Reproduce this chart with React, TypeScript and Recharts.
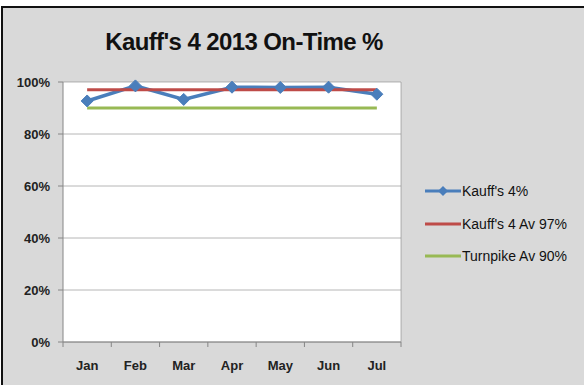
import React from "react";
import { LineChart, Line, XAxis, YAxis, CartesianGrid } from "recharts";

const months = ["Jan", "Feb", "Mar", "Apr", "May", "Jun", "Jul"];
const kauffsOnTime = [0.927, 0.985, 0.933, 0.98, 0.979, 0.98, 0.953];
const kauffsAverage = 0.97;
const turnpikeAverage = 0.9;
const yTicks = [0, 0.2, 0.4, 0.6, 0.8, 1];

const seriesNames = {
  kauffs: "Kauff's 4%",
  kauffsAv: "Kauff's 4 Av 97%",
  turnpikeAv: "Turnpike Av 90%",
};

const BLUE = "#4a7ebb";
const RED = "#be4b48";
const GREEN = "#98b954";
const AXIS = "#868686";
const FONT = "'Liberation Sans', Arial, sans-serif";

const data = months.map((m, i) => ({
  month: m,
  kauffs: kauffsOnTime[i],
  kauffsAv: kauffsAverage,
  turnpikeAv: turnpikeAverage,
}));

const W = 584;
const H = 385;
const MARGIN = { top: 82, right: 183, bottom: 13, left: 0 };
const Y_AXIS_W = 63;
const X_AXIS_H = 30;

const Diamond = (props: any) => {
  const { cx, cy } = props;
  if (cx == null || cy == null) return null;
  const r = 6;
  return (
    <path
      d={`M${cx},${cy - r}L${cx + r},${cy}L${cx},${cy + r}L${cx - r},${cy}Z`}
      fill={BLUE}
      stroke={BLUE}
    />
  );
};

const XTick = (props: any) => {
  const { x, y, payload, index } = props;
  const plotW = W - MARGIN.right - Y_AXIS_W - MARGIN.left;
  const half = plotW / months.length / 2;
  const top = y - 8;
  return (
    <g>
      <line x1={x - half} x2={x - half} y1={top} y2={top + 5} stroke={AXIS} />
      {index === months.length - 1 && (
        <line x1={x + half} x2={x + half} y1={top} y2={top + 5} stroke={AXIS} />
      )}
      <text
        x={x}
        y={y + 20}
        textAnchor="middle"
        fontFamily={FONT}
        fontSize={13}
        fontWeight="bold"
        fill="#222"
      >
        {payload.value}
      </text>
    </g>
  );
};

const LegendBox = () => {
  const items = [
    { key: "kauffs", color: BLUE, marker: true },
    { key: "kauffsAv", color: RED, marker: false },
    { key: "turnpikeAv", color: GREEN, marker: false },
  ];
  return (
    <div
      style={{
        position: "absolute",
        left: 425,
        top: 175,
        fontFamily: FONT,
        fontSize: 14,
        color: "#111",
      }}
    >
      {items.map((it) => (
        <div
          key={it.key}
          style={{ display: "flex", alignItems: "center", height: 32.5 }}
        >
          <svg width={36} height={12} style={{ marginRight: 1 }}>
            <line x1={0} x2={36} y1={6} y2={6} stroke={it.color} strokeWidth={3} />
            {it.marker && <path d="M18,1L23,6L18,11L13,6Z" fill={it.color} />}
          </svg>
          <span>{(seriesNames as any)[it.key]}</span>
        </div>
      ))}
    </div>
  );
};

export default function App() {
  return (
    <div
      style={{
        position: "absolute",
        left: 0,
        top: 0,
        width: W,
        height: H,
        background: "#ffffff",
        overflow: "hidden",
      }}
    >
      <div
        style={{
          position: "absolute",
          left: 1,
          top: 6,
          width: W + 10,
          height: H + 10,
          background: "#d9d9d9",
          borderLeft: "2px solid #111",
          borderTop: "2px solid #111",
          boxSizing: "border-box",
        }}
      />
      <div
        style={{
          position: "absolute",
          left: 0,
          top: 28,
          width: 488,
          textAlign: "center",
          fontFamily: FONT,
          fontSize: 24,
          letterSpacing: "-0.6px",
          fontWeight: "bold",
          color: "#111",
          lineHeight: "28px",
        }}
      >
        Kauff's 4 2013 On-Time %
      </div>
      <div style={{ position: "absolute", left: 0, top: 0 }}>
        <LineChart width={W} height={H} data={data} margin={MARGIN}>
          <CartesianGrid
            fill="#ffffff"
            stroke={AXIS}
            strokeOpacity={0.6}
            verticalCoordinatesGenerator={({ offset }: any) => [
              offset.left + offset.width,
            ]}
          />
          <XAxis
            dataKey="month"
            scale="band"
            height={X_AXIS_H}
            stroke={AXIS}
            tickLine={false}
            tick={<XTick />}
            interval={0}
          />
          <YAxis
            width={Y_AXIS_W}
            domain={[0, 1]}
            ticks={yTicks}
            stroke={AXIS}
            tickSize={5}
            tickMargin={8}
            tickFormatter={(v: number) => `${Math.round(v * 100)}%`}
            tick={{
              fontFamily: FONT,
              fontSize: 13,
              fill: "#222",
              fontWeight: "bold",
            }}
          />
          <Line
            dataKey="turnpikeAv"
            name={seriesNames.turnpikeAv}
            stroke={GREEN}
            strokeWidth={3}
            dot={false}
            isAnimationActive={false}
          />
          <Line
            dataKey="kauffs"
            name={seriesNames.kauffs}
            stroke={BLUE}
            strokeWidth={3.5}
            dot={<Diamond />}
            activeDot={false}
            isAnimationActive={false}
          />
          <Line
            dataKey="kauffsAv"
            name={seriesNames.kauffsAv}
            stroke={RED}
            strokeWidth={3}
            dot={false}
            isAnimationActive={false}
          />
        </LineChart>
      </div>
      <LegendBox />
    </div>
  );
}
